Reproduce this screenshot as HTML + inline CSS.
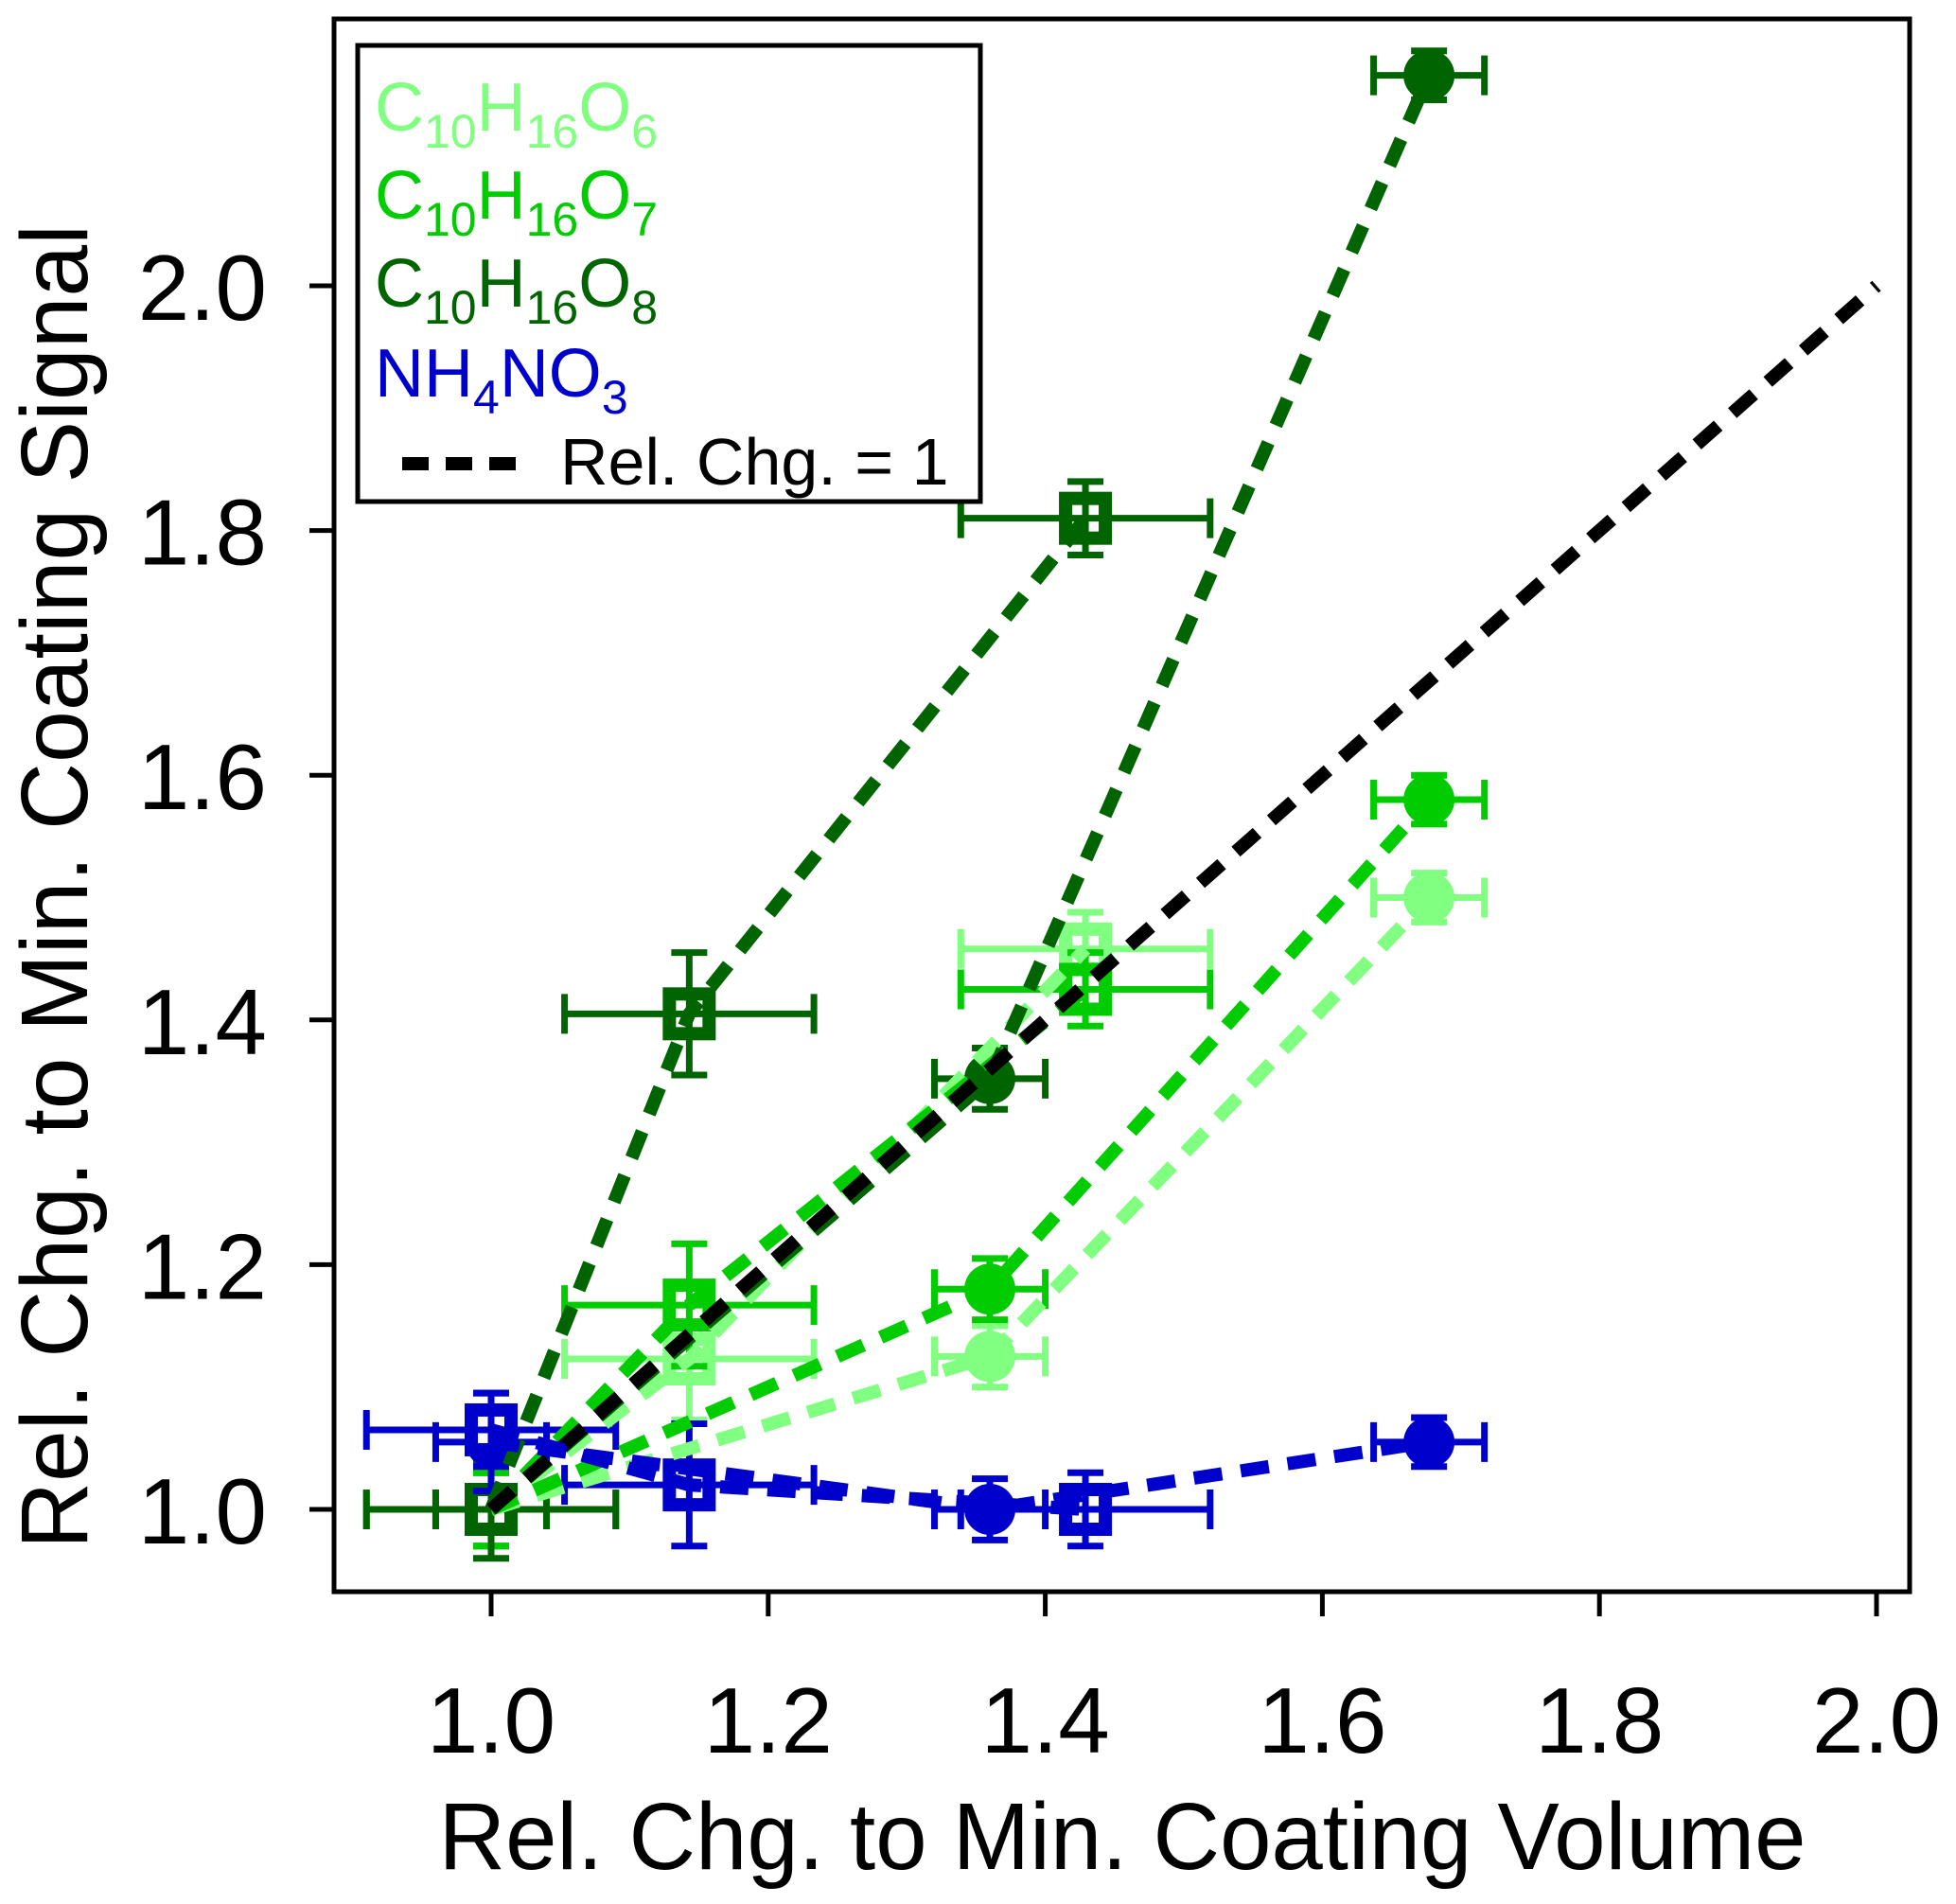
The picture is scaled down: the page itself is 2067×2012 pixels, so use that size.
<!DOCTYPE html>
<html><head><meta charset="utf-8"><style>
html,body{margin:0;padding:0;background:#fff;}
svg{display:block;font-family:"Liberation Sans",Arial,sans-serif;}
</style></head><body>
<svg id="chart" width="2067" height="2012" viewBox="0 0 2067 2012" xmlns="http://www.w3.org/2000/svg">
<rect x="0" y="0" width="2067" height="2012" fill="#fff"/>
<g id="plot"></g>
<rect x="353" y="20" width="1665" height="1662" fill="none" stroke="#000" stroke-width="5"/>
<g id="axes"></g>
<text x="1186" y="1975" font-size="100" text-anchor="middle" textLength="1445" lengthAdjust="spacingAndGlyphs">Rel. Chg. to Min. Coating Volume</text>
<text transform="translate(92,937) rotate(-90)" font-size="100" text-anchor="middle" textLength="1400" lengthAdjust="spacingAndGlyphs">Rel. Chg. to Min. Coating Signal</text>
<g>
<rect x="378" y="48" width="658" height="482" fill="#fff" stroke="#000" stroke-width="5"/>
<text x="396" y="138" font-size="72" fill="#80ff80">C<tspan font-size="50" dy="18">10</tspan><tspan dy="-18">H</tspan><tspan font-size="50" dy="18">16</tspan><tspan dy="-18">O</tspan><tspan font-size="50" dy="18">6</tspan></text>
<text x="396" y="231" font-size="72" fill="#00cc00">C<tspan font-size="50" dy="18">10</tspan><tspan dy="-18">H</tspan><tspan font-size="50" dy="18">16</tspan><tspan dy="-18">O</tspan><tspan font-size="50" dy="18">7</tspan></text>
<text x="396" y="324" font-size="72" fill="#006400">C<tspan font-size="50" dy="18">10</tspan><tspan dy="-18">H</tspan><tspan font-size="50" dy="18">16</tspan><tspan dy="-18">O</tspan><tspan font-size="50" dy="18">8</tspan></text>
<text x="396" y="419" font-size="72" fill="#0000cc">NH<tspan font-size="50" dy="18">4</tspan><tspan dy="-18">NO</tspan><tspan font-size="50" dy="18">3</tspan></text>
<line x1="425" y1="490" x2="562" y2="490" stroke="#000" stroke-width="14" stroke-dasharray="28,18"/>
<text x="592" y="512" font-size="70" fill="#000">Rel. Chg. = 1</text>
</g>
</svg>
<script>
const xTicks = [1.0, 1.2, 1.4, 1.6, 1.8, 2.0];
const yTicks = [1.0, 1.2, 1.4, 1.6, 1.8, 2.0];
const tickLabels = ["1.0", "1.2", "1.4", "1.6", "1.8", "2.0"];
const seriesNames = ["o6-circ", "o7-circ", "o8-circ", "o6-sq", "o7-sq", "o8-sq", "nh4no3-circ", "nh4no3-sq"];
const seriesColors = ["#80ff80", "#00cc00", "#006400", "#80ff80", "#00cc00", "#006400", "#0000cc", "#0000cc"];
const seriesMarkers = ["circle", "circle", "circle", "square", "square", "square", "circle", "square"];
const circX = [1.0, 1.36, 1.677];
const sqX = [1.0, 1.143, 1.429];
const circXErr = [0.04, 0.04, 0.04];
const sqXErr = [0.09, 0.09, 0.09];
const o6CircY = [1.0, 1.125, 1.50];
const o7CircY = [1.0, 1.18, 1.58];
const o8CircY = [1.0, 1.352, 2.172];
const o6SqY = [1.0, 1.123, 1.458];
const o7SqY = [1.0, 1.167, 1.425];
const o8SqY = [1.0, 1.405, 1.81];
const nhCircY = [1.055, 1.0, 1.055];
const nhSqY = [1.065, 1.02, 1.0];
const o6CircYErr = [0.03, 0.025, 0.02];
const o7CircYErr = [0.03, 0.025, 0.02];
const o8CircYErr = [0.03, 0.025, 0.02];
const o6SqYErr = [0.03, 0.05, 0.03];
const o7SqYErr = [0.03, 0.05, 0.03];
const o8SqYErr = [0.04, 0.05, 0.03];
const nhCircYErr = [0.04, 0.025, 0.02];
const nhSqYErr = [0.03, 0.05, 0.03];
const oneToOneX = [1.0, 2.0];

const NS = "http://www.w3.org/2000/svg";
function sx(v){ return 519 + (v - 1.0) * 1464; }
function sy(v){ return 1595 - (v - 1.0) * 1293; }
function mk(tag, attrs, parent){
  const e = document.createElementNS(NS, tag);
  for (const k in attrs) e.setAttribute(k, attrs[k]);
  parent.appendChild(e);
  return e;
}
const plot = document.getElementById("plot");
const axes = document.getElementById("axes");

xTicks.forEach((t, i) => {
  const l = mk("line", {x1: sx(t), x2: sx(t), y1: 1682, y2: 1708, stroke: "#000", "stroke-width": 5}, axes);
  
  
  const tx = mk("text", {x: sx(t), y: 1852, "font-size": 98, "text-anchor": "middle"}, axes);
  tx.textContent = tickLabels[i];
  
  
});
yTicks.forEach((t, i) => {
  const l = mk("line", {x1: 327, x2: 353, y1: sy(t), y2: sy(t), stroke: "#000", "stroke-width": 5}, axes);
  
  
  const tx = mk("text", {x: 282, y: sy(t) + 36, "font-size": 98, "text-anchor": "end"}, axes);
  tx.textContent = tickLabels[i];
  
  
});

const allY = [o6CircY, o7CircY, o8CircY, o6SqY, o7SqY, o8SqY, nhCircY, nhSqY];
const allYErr = [o6CircYErr, o7CircYErr, o8CircYErr, o6SqYErr, o7SqYErr, o8SqYErr, nhCircYErr, nhSqYErr];

function drawMarkers(si){
  const g = mk("g", {}, plot);
  
  
  const xs = seriesMarkers[si] === "circle" ? circX : sqX;
  const xe = seriesMarkers[si] === "circle" ? circXErr : sqXErr;
  const c = seriesColors[si];
  xs.forEach((xv, i) => {
    const yv = allY[si][i], ye = allYErr[si][i];
    const X = sx(xv), Y = sy(yv);
    const x0 = sx(xv - xe[i]), x1 = sx(xv + xe[i]);
    const y0 = sy(yv - ye), y1 = sy(yv + ye);
    if (seriesMarkers[si] === "circle") {
      const m = mk("circle", {cx: X, cy: Y, r: 27, fill: c}, g);
      
      
    } else {
      const m = mk("rect", {x: X - 21, y: Y - 21, width: 42, height: 42, fill: "#fff", stroke: c, "stroke-width": 14}, g);
      
      
    }
    const eb = mk("path", {d: `M${x0},${Y}H${x1}M${x0},${Y-21}V${Y+21}M${x1},${Y-21}V${Y+21}M${X},${y0}V${y1}M${X-19},${y0}H${X+19}M${X-19},${y1}H${X+19}`, stroke: c, "stroke-width": 7, fill: "none"}, g);
    
    
  });
}
function drawLine(si){
  const xs = seriesMarkers[si] === "circle" ? circX : sqX;
  const pts = xs.map((xv, i) => sx(xv) + "," + sy(allY[si][i])).join(" ");
  const l = mk("polyline", {points: pts, fill: "none", stroke: seriesColors[si], "stroke-width": 14, "stroke-dasharray": "30,20"}, plot);
  
  
}
[0,1,2,3,4,5,6,7].forEach(drawMarkers);
[3,4,0,1,5,2].forEach(drawLine);
const ref = mk("line", {x1: sx(oneToOneX[0]), y1: sy(oneToOneX[0]), x2: sx(oneToOneX[1]), y2: sy(oneToOneX[1]), stroke: "#000", "stroke-width": 14, "stroke-dasharray": "30,20"}, plot);


[7,6].forEach(drawLine);
</script>
</body></html>
